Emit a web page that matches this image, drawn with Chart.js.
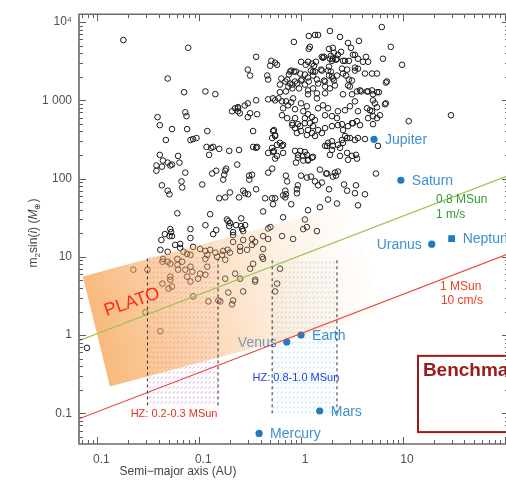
<!DOCTYPE html>
<html>
<head>
<meta charset="utf-8">
<script src="https://cdn.jsdelivr.net/npm/chart.js@4.4.1/dist/chart.umd.min.js"></script>
<style>
  html, body { margin: 0; padding: 0; overflow: hidden; background: #fff; }
  canvas { display: block; }
</style>
</head>
<body>
<canvas id="chart" width="520" height="482" style="width:520px;height:482px"></canvas>
<script>
// Axis ranges and tick labels
const xRange = [0.0066, 110];
const yRange = [0.0405, 12620];
const tickValuesX = [0.01, 0.1, 1, 10];
const tickLabelsX = ['0.1', '0.1', '1', '10'];
const tickValuesY = [0.1, 1, 10, 100, 1000, 10000];
const tickLabelsY = ['0.1', '1', '10', '100', '1 000', '10⁴'];

// Solar-system planets: semi-major axis (AU) and mass (Earth masses)
const planetNames = ['Mercury', 'Venus', 'Earth', 'Mars', 'Jupiter', 'Saturn', 'Uranus', 'Neptune'];
const planetA = [0.387, 0.723, 1.0, 1.524, 5.203, 9.537, 19.19, 30.07];
const planetM = [0.0553, 0.815, 1.0, 0.107, 317.8, 95.2, 14.5, 17.1];
const planetLabelSide = ['right', 'left', 'right', 'right', 'right', 'right', 'left', 'right'];

// RV detection limits (mass vs semi-major axis)
const rvLimitA = [0.0066, 110];
const rv1msMass = [0.85, 110];    // 0.8 MSun, 1 m/s
const rv10cmMass = [0.085, 11];   // 1 MSun, 10 cm/s

// Habitable zones
const hzLowA = [0.031, 0.153];
const hzLowM = [0.126, 10];
const hzSunA = [0.52, 2.25];
const hzSunM = [0.1, 9.4];

// PLATO sensitivity band corners
const platoA = [0.0072, 3.2, 6.0, 0.0133];
const platoM = [5.6, 48, 1.85, 0.22];

// Known exoplanets: [semi-major axis (AU), m2 sin(i) (Earth masses)]
const exoplanets = [
  [0.018,5900],[0.078,4700],[0.049,1900],[0.071,1270],[0.115,1300],[0.144,1200],[0.30,2470],[0.30,916],
  [0.21,725],[0.24,790],[0.25,684],[0.30,610],[0.039,610],[0.041,482],[0.073,704],[0.075,628],[0.054,429],
  [0.076,429],[0.12,405],[0.047,311],[0.082,311],[0.087,320],[0.094,330],[0.041,201],[0.062,195],[0.044,170],
  [0.049,160],[0.052,147],[0.054,151],[0.038,147],[0.038,126],[0.043,142],[0.064,160],[0.073,119],[0.067,92],
  [0.068,77],[0.043,82],[0.049,70],[0.051,63],[0.107,84],[0.118,254],[0.131,247],[0.137,254],[0.157,240],
  [0.125,201],[0.197,226],[0.246,232],[0.236,151],[0.134,116],[0.147,126],[0.172,97],[0.184,134],[0.309,109],
  [0.282,65],[0.302,63],[0.246,57.5],[0.157,56],[0.180,57.5],[0.061,36],[0.128,35],[0.115,25.4],[0.147,22],
  [0.193,28.5],[0.258,31],[0.230,25.4],[0.258,24.7],[0.282,25.4],[0.052,22.6],[0.053,20.7],[0.082,22.6],
  [0.201,27],[0.197,24.7],[0.215,20.7],[0.270,21.3],[0.0425,16.4],[0.054,18.4],[0.176,112],[0.137,19.5],
  [0.051,18.4],[0.082,17.4],
  [6.2,8650],[1.92,7700],[7.6,4830],[1.19,6650],[1.37,6850],[1.47,6850],[2.41,6460],[0.85,5580],[2.89,5420],
  [3.70,5740],[1.22,4830],[1.19,4550],[1.88,4550],[2.30,3820],[3.38,3820],[4.34,3600],[0.362,3600],[1.60,3600],
  [1.64,3500],[2.05,3400],[2.20,3300],[2.95,3200],[2.70,3200],[6.37,3400],[9.8,2850],[0.556,3030],[0.58,2850],
  [1.00,3110],[1.11,2850],[1.28,2940],[1.34,2770],[1.92,3400],[2.01,3200],[3.38,2620],[3.62,2540],[0.497,2770],
  [2.52,2540],[2.83,2470],[1.57,2470],[1.88,2690],[1.96,2330],[2.25,2075],[2.01,2015],[2.05,1900],[0.80,2400],
  [0.89,2330],[0.98,2200],[1.25,2400],[1.37,2330],[4.24,2200],[4.97,2200],[5.56,2200],[0.76,2140],[0.64,1900],
  [0.70,1740],[0.62,1590],[0.316,2075],[1.09,2140],[1.17,1960],[2.76,2075],[2.95,1845],[1.0,1790],[1.09,1590],
  [1.19,1740],[1.43,1845],[1.68,1790],[1.88,2075],[2.10,1790],[6.8,1690],[3.02,1500],[3.79,1340],[4.44,1300],
  [4.97,1340],[5.56,1270],[0.91,1640],[0.955,1420],[0.82,1420],[0.71,1300],[0.62,1270],[0.475,1030],[0.53,1060],
  [0.556,1000],[0.362,1000],[0.65,971],[0.71,971],[0.80,943],[6.8,916],[5.08,1000],[5.31,916],[4.75,747],
  [5.08,628],[5.56,592],[29.6,645],[11.4,542],[0.316,684],[0.338,405],[0.362,247],[0.338,254],[0.53,405],
  [0.556,360],[0.666,270],[0.52,247],[0.58,270],[0.53,219],[0.58,195],[0.556,180],[0.666,213],[4.24,320],
  [5.68,262],[5.43,116],[0.98,226],[1.05,195],[0.93,185],[1.14,201],[1.17,174],[1.31,190],[1.80,262],[2.01,233],
  [2.05,262],[2.30,270],[2.41,247],[2.52,311],[2.70,350],[3.02,330],[3.38,311],[3.62,330],[1.92,201],[2.41,195],
  [2.89,174],[3.46,201],[3.54,180],[1.53,130],[1.76,116],[0.71,109],[0.73,92],[0.93,82],[1.0,109],[1.14,103],
  [1.80,116],[2.15,119],[2.30,123],[2.05,106],[2.20,109],[2.64,84],[3.46,82],[3.38,65],[4.24,63],[1.88,73],
  [1.60,89],[1.47,82],[0.362,73],[0.444,56],[0.52,56],[0.53,47],[0.424,38],[0.666,61],[0.80,47],[1.17,39.4],
  [1.84,54],[2.25,48],[3.62,45.5],[2.83,70],[0.91,65],[0.50,24],[0.424,18.4],[0.475,16.9],[0.65,18.4],
  [0.835,16.9],[1.05,22.6],[1.14,24],[1.43,21.3],
  [2.05,4690],[2.47,4170],[3.09,4690],[0.51,3200],[1.17,3110],[1.40,3110],[1.68,3600],[1.96,3700],[2.10,4050],
  [2.25,3400],[2.58,3200],[4.05,3110],[4.55,3110],[3.62,3400],[3.23,3820],[0.465,2075],[0.475,1845],[0.73,1845],
  [0.78,2330],[0.85,2330],[0.78,1640],[0.87,1740],[1.02,1845],[1.31,2330],[1.31,2075],[1.60,2400],[1.84,2400],
  [2.15,1550],[1.72,1740],[1.47,1640],[1.72,1500],[2.58,2200],[3.38,2400],[6.97,1740],[3.16,1790],[2.89,1550],
  [0.75,1500],[0.82,1590],[0.60,1060],[0.835,1060],[1.17,1340],[1.31,1420],[1.43,1230],[1.17,1195],[1.43,1060],
  [1.72,1230],[1.92,1420],[2.58,1195],[3.16,1195],[3.54,1300],[3.88,1300],[4.55,1300],[5.08,1195],[5.81,1270],
  [6.66,890],[0.225,792],[0.24,725],[0.24,820],[0.28,860],[0.37,664],[0.666,792],[0.746,864],[0.873,770],
  [0.65,645],[1.0,916],[1.14,840],[1.05,725],[1.17,664],[1.09,592],[1.28,610],[1.37,558],[1.22,511],[1.47,792],
  [1.64,864],[1.84,792],[1.72,645],[2.01,628],[2.30,725],[2.25,592],[2.70,747],[3.02,840],[3.38,971],[3.62,725],
  [4.44,792],[4.97,725],[5.56,815],[5.95,645],[4.55,592],[3.54,542],[0.73,592],[0.873,592],[0.82,511],[0.93,496],
  [2.52,496],[3.16,511],[5.08,496],
  [0.82,482],[0.873,442],[0.98,468],[1.09,511],[1.17,417],[1.31,468],[1.47,417],[1.72,442],[2.01,468],[2.30,482],
  [2.58,417],[2.89,468],[3.23,511],[3.79,482],[0.91,382],[1.0,405],[1.14,360],[1.28,382],[1.37,350],[1.60,382],
  [0.54,417],[0.556,350],[0.52,330],[0.62,286],[0.65,262],[1.72,262],[1.84,286],[2.01,300],[2.58,286],[2.83,330],
  [0.873,226],[0.933,201],[1.09,219],[1.28,185],[1.17,170],[0.89,160],[1.05,170],[2.83,213],[3.16,195],[0.37,254],
  [0.475,213],[0.54,226],[0.18,126],[0.33,112],[0.31,97],[0.52,134],[0.475,119],[1.25,106],[1.37,92],[0.20,66.5],
  [0.27,70],[0.556,56],[0.70,70],[0.71,63],[0.70,57.5],[0.91,73],[1.53,43],[0.187,30],[0.264,22.6],[0.666,32],
  [1.09,30],[0.475,23],
  [0.046,19.5],[0.065,14.6],[0.058,14.2],[0.215,19],[0.215,15.5],[0.27,16.4],[0.33,16.9],[0.354,15.5],[0.252,13.4],
  [0.087,13.4],[0.102,12.6],[0.115,11.9],[0.128,12.3],[0.144,11.3],[0.12,10.6],[0.15,10],[0.065,13],[0.07,11.6],
  [0.076,10.9],[0.061,9.4],[0.082,10.6],[0.0415,12.3],[0.049,11.6],[0.044,9.4],[0.0435,8.65],[0.049,8.65],
  [0.172,11.9],[0.19,12.3],[0.20,11.3],[0.168,10.6],[0.252,11.9],[0.295,12.3],[0.18,9.15],[0.424,12.6],[0.424,9.4],
  [0.0225,6.85],[0.031,6.85],[0.052,8.15],[0.061,7.9],[0.068,8.65],[0.062,6.85],[0.073,6.85],[0.082,7.47],
  [0.0855,6.46],[0.115,9.4],[0.12,7.47],[0.102,6.1],[0.0975,5.25],[0.115,5.9],[0.076,5.58],[0.082,4.83],[0.052,5.58],
  [0.052,5.1],[0.054,4.17],[0.050,3.93],[0.0435,4.55],[0.18,5.25],[0.225,6.1],[0.252,5.25],[0.316,7.05],[0.354,4.83],
  [0.27,3.61],[0.193,3.5],[0.622,7.05],[0.582,4.55],[0.556,3.61],[0.087,3.12],[0.154,2.77],[0.215,2.77],[0.21,2.47],
  [0.0296,1.95],[0.0415,1.12],[0.123,2.69],[0.161,2.69],[0.0079,0.685],[0.33,14.2],[0.415,10],[0.338,8.15],[0.354,5.1]
];

// Text annotations, anchored in data units
const notes = {
  plato: { a: 0.0219, m: 2.62 },
  hzLow: { a: 0.0566, m: 0.097 },
  hzSun: { a: 0.89, m: 0.286 },
  rv1ms: { a: 21.1, m: 54.2, m2: 35.0 },
  rv10cm: { a: 23.1, m: 4.17, a2: 23.6, m2: 2.77 },
  benchmarkBox: { a: 14.06, mTop: 0.542, mBottom: 0.0575, aRight: 300 },
  benchmarkText: { a: 15.7, m: 0.35 }
};

const FONT = "'Liberation Sans', Arial, Helvetica, sans-serif";
Chart.defaults.font.family = FONT;

function hatchPattern(ctx, color) {
  const c = document.createElement('canvas');
  c.width = 4; c.height = 5;
  const g = c.getContext('2d');
  g.strokeStyle = color;
  g.lineWidth = 0.8;
  g.beginPath();
  g.moveTo(0.9, 3.5);
  g.lineTo(2.7, 1.5);
  g.stroke();
  return ctx.createPattern(c, 'repeat');
}

function fillBox(ctx, xs, ys, aR, mR, style) {
  const x0 = xs.getPixelForValue(aR[0]), x1 = xs.getPixelForValue(aR[1]);
  const y0 = ys.getPixelForValue(mR[1]), y1 = ys.getPixelForValue(mR[0]);
  ctx.fillStyle = style;
  ctx.fillRect(x0, y0, x1 - x0, y1 - y0);
}

function drawBand(ctx, xs, ys) {
  const p = platoA.map((a, i) => [xs.getPixelForValue(a), ys.getPixelForValue(platoM[i])]);
  const s = [(p[0][0] + p[3][0]) / 2, (p[0][1] + p[3][1]) / 2];
  const e = [(p[1][0] + p[2][0]) / 2, (p[1][1] + p[2][1]) / 2];
  const g = ctx.createLinearGradient(s[0], s[1], e[0], e[1]);
  g.addColorStop(0, 'rgba(246,158,75,0.72)');
  g.addColorStop(0.3, 'rgba(247,165,88,0.50)');
  g.addColorStop(0.6, 'rgba(248,178,110,0.28)');
  g.addColorStop(0.85, 'rgba(250,195,140,0.12)');
  g.addColorStop(1, 'rgba(252,210,170,0.03)');
  ctx.beginPath();
  ctx.moveTo(p[0][0], p[0][1]);
  for (let i = 1; i < p.length; i++) ctx.lineTo(p[i][0], p[i][1]);
  ctx.closePath();
  ctx.fillStyle = g;
  ctx.fill();
}

function drawPlanetLabels(ctx, xs, ys) {
  ctx.font = '14px ' + FONT;
  ctx.fillStyle = '#3b90d2';
  ctx.textBaseline = 'middle';
  planetNames.forEach((name, i) => {
    const x = xs.getPixelForValue(planetA[i]);
    const y = ys.getPixelForValue(planetM[i]) + 1;
    if (planetLabelSide[i] === 'left') {
      ctx.textAlign = 'right';
      ctx.fillText(name, x - 10, y);
    } else {
      ctx.textAlign = 'left';
      ctx.fillText(name, x + 11, y);
    }
  });
}

function drawMassTitle(ctx, cx, cy) {
  const parts = [
    { t: 'm', f: '12px' }, { t: '2', f: '8px', dy: 3 }, { t: 'sin(', f: '12px' },
    { t: 'i', f: 'italic 12px' }, { t: ') (', f: '12px' }, { t: 'M', f: 'italic 12px' },
    { t: '⊕', f: '8px', dy: 3 }, { t: ')', f: '12px' }
  ];
  ctx.save();
  ctx.translate(cx, cy);
  ctx.rotate(-Math.PI / 2);
  let w = 0;
  parts.forEach(p => { ctx.font = p.f + ' ' + FONT; p.w = ctx.measureText(p.t).width; w += p.w; });
  let x = -w / 2;
  ctx.fillStyle = '#444';
  ctx.textAlign = 'left';
  ctx.textBaseline = 'alphabetic';
  parts.forEach(p => { ctx.font = p.f + ' ' + FONT; ctx.fillText(p.t, x, 4 + (p.dy || 0)); x += p.w; });
  ctx.restore();
}

function drawTicks(ctx, area, xs, ys) {
  ctx.save();
  ctx.strokeStyle = '#5c5c5c';
  ctx.lineWidth = 1;
  ctx.beginPath();
  for (let e = -3; e <= 4; e++) {
    for (let k = 1; k <= 9; k++) {
      const v = k * Math.pow(10, e);
      const len = k === 1 ? 7 : 4;
      if (v >= xRange[0] && v <= xRange[1]) {
        const x = Math.round(xs.getPixelForValue(v)) + 0.5;
        ctx.moveTo(x, area.bottom); ctx.lineTo(x, area.bottom - len);
        ctx.moveTo(x, area.top); ctx.lineTo(x, area.top + len);
      }
      if (v >= yRange[0] && v <= yRange[1]) {
        const y = Math.round(ys.getPixelForValue(v)) + 0.5;
        ctx.moveTo(area.left, y); ctx.lineTo(area.left + len, y);
        ctx.moveTo(area.right, y); ctx.lineTo(area.right - len, y);
      }
    }
  }
  ctx.stroke();
  ctx.strokeStyle = '#6a6a6a';
  ctx.lineWidth = 1.6;
  ctx.beginPath();
  ctx.moveTo(area.right, area.top); ctx.lineTo(area.left, area.top);
  ctx.lineTo(area.left, area.bottom); ctx.lineTo(area.right, area.bottom);
  ctx.lineTo(area.right, area.top);
  ctx.stroke();
  ctx.restore();
}

const decorations = {
  id: 'decorations',
  afterDatasetDraw(chart, args) {
    if (chart.data.datasets[args.index].role !== 'exo') return;
    const { ctx, chartArea: area, scales: { x: xs, y: ys } } = chart;
    ctx.save();
    ctx.beginPath();
    ctx.rect(area.left, area.top, area.right - area.left, area.bottom - area.top);
    ctx.clip();
    fillBox(ctx, xs, ys, hzLowA, hzLowM, hatchPattern(ctx, 'rgba(170,70,185,0.7)'));
    fillBox(ctx, xs, ys, hzSunA, hzSunM, hatchPattern(ctx, 'rgba(105,190,212,0.75)'));
    drawPlanetLabels(ctx, xs, ys);
    drawBand(ctx, xs, ys);
    ctx.restore();
  },
  afterDraw(chart) {
    const { ctx, chartArea: area, scales: { x: xs, y: ys } } = chart;
    const px = a => xs.getPixelForValue(a);
    const py = m => ys.getPixelForValue(m);
    ctx.save();

    // PLATO label
    ctx.save();
    ctx.translate(px(notes.plato.a), py(notes.plato.m));
    ctx.rotate(-19 * Math.PI / 180);
    ctx.font = '18px ' + FONT;
    ctx.fillStyle = '#ff2c12';
    ctx.textAlign = 'center';
    ctx.textBaseline = 'middle';
    ctx.fillText('PLATO', 0, 0);
    ctx.restore();

    // Habitable-zone labels
    ctx.font = '11px ' + FONT;
    ctx.textAlign = 'center';
    ctx.textBaseline = 'middle';
    ctx.fillStyle = '#e8321e';
    ctx.fillText('HZ: 0.2-0.3 MSun', px(notes.hzLow.a), py(notes.hzLow.m));
    ctx.fillStyle = '#1f3de8';
    ctx.fillText('HZ: 0.8-1.0 MSun', px(notes.hzSun.a), py(notes.hzSun.m));

    // RV limit labels
    ctx.font = '12px ' + FONT;
    ctx.textAlign = 'left';
    ctx.fillStyle = '#2f9a2f';
    ctx.fillText('0.8 MSun', px(notes.rv1ms.a), py(notes.rv1ms.m));
    ctx.fillText('1 m/s', px(notes.rv1ms.a), py(notes.rv1ms.m2));
    ctx.fillStyle = '#f0401f';
    ctx.fillText('1 MSun', px(notes.rv10cm.a), py(notes.rv10cm.m));
    ctx.fillText('10 cm/s', px(notes.rv10cm.a2), py(notes.rv10cm.m2));

    // Benchmark box
    const b = notes.benchmarkBox;
    ctx.strokeStyle = '#9b1c1c';
    ctx.lineWidth = 2;
    ctx.strokeRect(px(b.a), py(b.mTop), px(b.aRight) - px(b.a), py(b.mBottom) - py(b.mTop));
    ctx.font = 'bold 19px ' + FONT;
    ctx.fillStyle = '#9b1c1c';
    ctx.textAlign = 'left';
    ctx.fillText('Benchmark', px(notes.benchmarkText.a), py(notes.benchmarkText.m));

    drawTicks(ctx, area, xs, ys);

    // Axis titles
    ctx.font = '12px ' + FONT;
    ctx.fillStyle = '#444';
    ctx.textAlign = 'center';
    ctx.textBaseline = 'middle';
    ctx.fillText('Semi\u2212major axis (AU)', 178, 472);
    drawMassTitle(ctx, 33, 233);
    ctx.restore();
  }
};

const vline = (a, mR) => [{ x: a, y: mR[0] }, { x: a, y: mR[1] }];
const dashed = { showLine: true, borderColor: '#333', borderWidth: 1, borderDash: [3, 3], pointRadius: 0, order: 0 };

new Chart(document.getElementById('chart'), {
  type: 'scatter',
  data: {
    datasets: [
      {
        role: 'exo',
        data: exoplanets.map(([a, m]) => ({ x: a, y: m })),
        pointRadius: 2.8,
        pointBorderWidth: 1,
        pointBorderColor: '#1c1c1c',
        pointBackgroundColor: 'rgba(0,0,0,0)',
        order: 5
      },
      {
        role: 'planets',
        data: planetA.map((a, i) => ({ x: a, y: planetM[i] })),
        pointStyle: planetNames.map(n => n === 'Neptune' ? 'rect' : 'circle'),
        pointRadius: planetNames.map(n => n === 'Neptune' ? 4.8 : 3.6),
        pointBackgroundColor: '#1f7bc2',
        pointBorderWidth: 0,
        order: 4
      },
      {
        role: 'rv',
        data: rvLimitA.map((a, i) => ({ x: a, y: rv1msMass[i] })),
        showLine: true, borderColor: '#9cc45a', borderWidth: 1.2, pointRadius: 0, order: 2
      },
      {
        role: 'rv',
        data: rvLimitA.map((a, i) => ({ x: a, y: rv10cmMass[i] })),
        showLine: true, borderColor: '#e8483a', borderWidth: 1.1, pointRadius: 0, order: 2
      },
      { role: 'hz', data: vline(hzLowA[0], hzLowM), ...dashed },
      { role: 'hz', data: vline(hzLowA[1], hzLowM), ...dashed },
      { role: 'hz', data: vline(hzSunA[0], hzSunM), ...dashed },
      { role: 'hz', data: vline(hzSunA[1], hzSunM), ...dashed }
    ]
  },
  options: {
    responsive: false,
    animation: false,
    devicePixelRatio: 1,
    events: [],
    layout: { padding: { top: 10, right: 11, left: 0, bottom: 0 } },
    plugins: { legend: { display: false }, tooltip: { enabled: false } },
    scales: {
      x: {
        type: 'logarithmic',
        position: 'bottom',
        min: xRange[0],
        max: xRange[1],
        bounds: 'data',
        grid: { display: false, drawTicks: false },
        border: { display: false },
        ticks: {
          autoSkip: false, maxRotation: 0, padding: 8, labelOffset: 4,
          color: '#4f4f4f', font: { size: 12 },
          callback: (v, i) => tickLabelsX[i] ?? ''
        },
        afterBuildTicks: s => { s.ticks = tickValuesX.map(v => ({ value: v })); },
        afterFit: s => { s.height = 38; }
      },
      y: {
        type: 'logarithmic',
        position: 'left',
        min: yRange[0],
        max: yRange[1],
        bounds: 'data',
        grid: { display: false, drawTicks: false },
        border: { display: false },
        ticks: {
          autoSkip: false, padding: 7,
          color: '#4f4f4f', font: { size: 12 },
          callback: (v, i) => tickLabelsY[i] ?? ''
        },
        afterBuildTicks: s => { s.ticks = tickValuesY.map(v => ({ value: v })); },
        afterFit: s => { s.width = 79; }
      }
    }
  },
  plugins: [decorations]
});
</script>
</body>
</html>
